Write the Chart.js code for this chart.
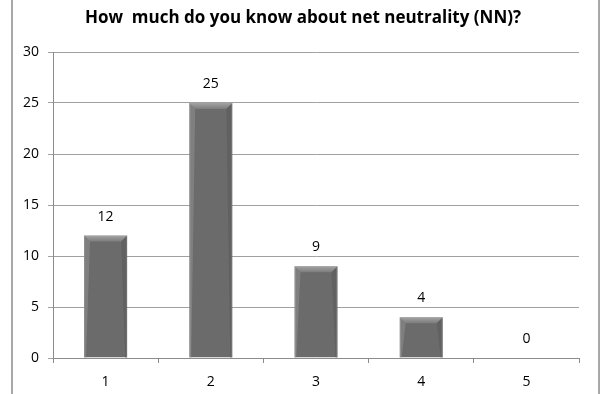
<!DOCTYPE html>
<html>
<head>
<meta charset="utf-8">
<script src="https://cdn.jsdelivr.net/npm/chart.js@4"></script>
<style>
    html, body { margin: 0; padding: 0; background: #fff; }
    .wrap { position: relative; width: 608px; height: 394px; }
    .frame {
        position: absolute; left: 11px; top: 0; width: 585px; height: 394px;
        border-left: 2px solid #a8a8a8; border-right: 2px solid #a8a8a8;
        pointer-events: none;
    }
    canvas { position: absolute; left: 0; top: 0; }
</style>
</head>
<body>
<div class="wrap">
    <canvas id="chart" width="608" height="394"></canvas>
    <div class="frame"></div>
</div>
<script>
// 数据
const categories = ['1', '2', '3', '4', '5'];
const responses = [12, 25, 9, 4, 0];
const yTicks = [0, 5, 10, 15, 20, 25, 30];
const chartTitle = 'How  much do you know about net neutrality (NN)?';

const FONT = '"Open Sans", "Liberation Sans", sans-serif';

/**
 * 标题：居中于整个画布（而不是绘图区）
 */
const pageTitle = {
    id: 'pageTitle',
    afterDraw(chart) {
        const ctx = chart.ctx;
        ctx.save();
        ctx.fillStyle = '#000';
        ctx.font = 'bold 17px ' + FONT;
        ctx.textAlign = 'center';
        ctx.textBaseline = 'middle';
        ctx.fillText(chartTitle, chart.width / 2 - 1, 18);
        ctx.restore();
    },
};

/**
 * 柱子顶部斜面效果 + 数值标签
 */
const bevelAndLabels = {
    id: 'bevelAndLabels',
    afterDatasetsDraw(chart) {
        const ctx = chart.ctx;
        const meta = chart.getDatasetMeta(0);
        meta.data.forEach((bar, i) => {
            const p = bar.getProps(['x', 'y', 'base', 'width'], true);
            const left = p.x - p.width / 2;
            const right = p.x + p.width / 2;
            const h = p.base - p.y;
            if (h > 2) {
                const b = Math.min(6, h / 2);
                ctx.save();
                // 顶部斜面
                const g = ctx.createLinearGradient(0, p.y, 0, p.y + b);
                g.addColorStop(0, '#a4a4a4');
                g.addColorStop(1, '#7c7c7c');
                ctx.fillStyle = g;
                ctx.beginPath();
                ctx.moveTo(left, p.y);
                ctx.lineTo(right, p.y);
                ctx.lineTo(right - b, p.y + b);
                ctx.lineTo(left + b, p.y + b);
                ctx.closePath();
                ctx.fill();
                // 两侧高光
                ctx.fillStyle = 'rgba(140,140,140,0.6)';
                ctx.beginPath();
                ctx.moveTo(left, p.y);
                ctx.lineTo(left + b, p.y + b);
                ctx.lineTo(left + 2, p.base);
                ctx.lineTo(left, p.base);
                ctx.closePath();
                ctx.fill();
                ctx.fillStyle = 'rgba(90,90,90,0.6)';
                ctx.beginPath();
                ctx.moveTo(right, p.y);
                ctx.lineTo(right - b, p.y + b);
                ctx.lineTo(right - 2, p.base);
                ctx.lineTo(right, p.base);
                ctx.closePath();
                ctx.fill();
                ctx.restore();
            }
            ctx.save();
            ctx.fillStyle = '#000';
            ctx.font = '14px ' + FONT;
            ctx.textAlign = 'center';
            ctx.textBaseline = 'middle';
            ctx.fillText(String(responses[i]), p.x, p.y - 19);
            ctx.restore();
        });
    },
};

new Chart(document.getElementById('chart').getContext('2d'), {
    type: 'bar',
    data: {
        labels: categories,
        datasets: [{
            data: responses,
            backgroundColor: '#6b6b6b',
            borderColor: '#858585',
            borderWidth: 1,
            categoryPercentage: 1,
            barPercentage: 0.41,
        }],
    },
    options: {
        responsive: false,
        animation: false,
        layout: { padding: { left: 0, right: 29, top: 52, bottom: 0 } },
        plugins: {
            legend: { display: false },
            tooltip: { enabled: false },
            title: { display: false },
        },
        scales: {
            x: {
                offset: true,
                grid: {
                    offset: true,
                    drawOnChartArea: false,
                    color: '#8c8c8c',
                    tickLength: 5,
                },
                border: { color: '#8c8c8c' },
                ticks: {
                    color: '#000',
                    padding: 11,
                    font: { family: FONT, size: 14 },
                },
                afterFit(scale) { scale.height = 36; },
            },
            y: {
                min: 0,
                max: 30,
                afterBuildTicks(scale) {
                    scale.ticks = yTicks.map(v => ({ value: v }));
                },
                grid: {
                    color: '#a0a0a0',
                    tickLength: 5,
                },
                border: { color: '#8c8c8c' },
                ticks: {
                    color: '#000',
                    padding: 9,
                    font: { family: FONT, size: 14 },
                },
                afterFit(scale) { scale.width = 53; },
            },
        },
    },
    plugins: [bevelAndLabels, pageTitle],
});
</script>
</body>
</html>
